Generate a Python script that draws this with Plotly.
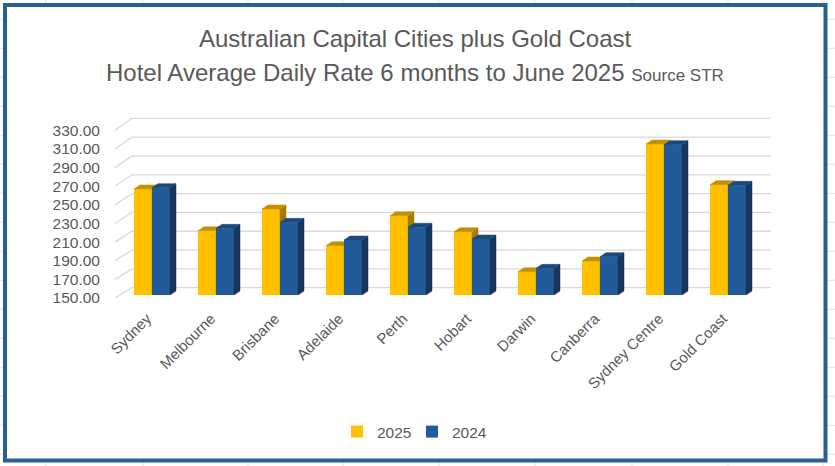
import plotly.graph_objects as go

# Hotel ADR, 6 months to June (AUD)
cities = ["Sydney", "Melbourne", "Brisbane", "Adelaide", "Perth", "Hobart",
          "Darwin", "Canberra", "Sydney Centre", "Gold Coast"]
adr_2025 = [263.4, 218.8, 242.0, 202.8, 234.8, 217.7, 174.9, 186.4, 311.5, 268.0]
adr_2024 = [264.8, 221.3, 227.7, 208.8, 222.4, 209.9, 178.5, 191.0, 310.8, 267.3]
value_ticks = [150, 170, 190, 210, 230, 250, 270, 290, 310, 330]

# page geometry (px)
W, H = 835, 466
L, R, T, B = 115, 64, 118, 168
PW, PH = W - L - R, H - T - B


def px(x):
    return (x - L) / PW


def py(y):
    return (H - B - y) / PH


# fake 3D: front plane (labels), bar plane, back wall
GROUP_PX = 64
FIRST_PX = 152
K_FRONT, K_BAR, K_BACK = 0.931, 0.935, 0.941
BAR_BOTTOM, BACK_BOTTOM, BACK_LEFT, BACK_RIGHT = 295, 287.7, 132, 771
BAR_W = 18 / GROUP_PX
DX = 6 / GROUP_PX
DY = 4 / K_BAR
FLOOR = value_ticks[0]
X_RANGE = [(L - FIRST_PX) / GROUP_PX, (W - R - FIRST_PX) / GROUP_PX]

TXT = "#595959"
FONT = "Liberation Sans, Arial, sans-serif"


def faces(vals, x_off):
    tx, ty, sx, sy = [], [], [], []
    for i, v in enumerate(vals):
        xl = i + x_off
        xr = xl + BAR_W
        tx += [xl, xr, xr + DX, xl + DX, xl, None]
        ty += [v, v, v + DY, v + DY, v, None]
        sx += [xr, xr, xr + DX, xr + DX, xr, None]
        sy += [FLOOR, v, v + DY, FLOOR + DY, FLOOR, None]
    return tx, ty, sx, sy


fig = go.Figure()

# wall gridlines, on the front-plane axis (side wall diagonal + back wall)
gx, gy = [], []
x_back = (BACK_LEFT - FIRST_PX) / GROUP_PX
x_right = (BACK_RIGHT - FIRST_PX) / GROUP_PX
for v in value_ticks:
    yb_px = BACK_BOTTOM - (v - FLOOR) * K_BACK
    u = FLOOR + ((H - B) - yb_px) / K_FRONT
    gx += [X_RANGE[0], x_back, x_right, None]
    gy += [v, u, u, None]
fig.add_trace(go.Scatter(x=gx, y=gy, mode="lines", line=dict(color="#D9D9D9", width=1.3),
                         showlegend=False, hoverinfo="skip"))

series = [
    ("2025", adr_2025, -BAR_W, "y2", "#FFC000", "#C29100", "#A37B00"),
    ("2024", adr_2024, 0.0, "y3", "#215C98", "#1A4A7C", "#15375C"),
]
for name, vals, off, yax, c_front, c_top, c_side in series:
    fig.add_trace(go.Bar(
        x=list(range(len(cities))), y=vals, name=name, width=BAR_W, offset=off,
        marker=dict(color=c_front, line=dict(width=0)), yaxis=yax,
    ))
    tx, ty, sx, sy = faces(vals, off)
    fig.add_trace(go.Scatter(x=sx, y=sy, yaxis=yax, mode="lines", fill="toself",
                             fillcolor=c_side, line=dict(color=c_side, width=0.5),
                             showlegend=False, hoverinfo="skip"))
    fig.add_trace(go.Scatter(x=tx, y=ty, yaxis=yax, mode="lines", fill="toself",
                             fillcolor=c_top, line=dict(color=c_top, width=0.5),
                             showlegend=False, hoverinfo="skip"))

shapes = []
# spreadsheet cells behind the chart object
for cx in [46, 143, 248, 343, 439, 535, 632, 728, 823]:
    shapes.append(dict(type="line", xref="paper", yref="paper", layer="below",
                       x0=px(cx), x1=px(cx), y0=py(0), y1=py(H),
                       line=dict(color="#E1E1E1", width=1)))
for k in range(16):
    ry = 19.3 + 29 * k
    shapes.append(dict(type="line", xref="paper", yref="paper", layer="below",
                       x0=px(0), x1=px(W), y0=py(ry), y1=py(ry),
                       line=dict(color="#E1E1E1", width=1)))
# chart object with its blue border
shapes.append(dict(type="rect", xref="paper", yref="paper", layer="below",
                   x0=px(5), x1=px(825.5), y0=py(5), y1=py(460.5),
                   fillcolor="white", line=dict(color="#2A5F96", width=4)))

annotations = [
    dict(text="Australian Capital Cities plus Gold Coast", xref="paper", yref="paper",
         x=px(415), y=py(38), xanchor="center", yanchor="middle", showarrow=False,
         font=dict(family=FONT, size=24, color=TXT)),
    dict(text="Hotel Average Daily Rate 6 months to June 2025 "
              "<span style='font-size:17px'>Source STR</span>",
         xref="paper", yref="paper", x=px(415), y=py(72), xanchor="center",
         yanchor="middle", showarrow=False, font=dict(family=FONT, size=24, color=TXT)),
]

bar_axis = dict(domain=[py(BAR_BOTTOM), 1], anchor="x", visible=False,
                range=[FLOOR, FLOOR + (BAR_BOTTOM - T) / K_BAR], fixedrange=True)

fig.update_layout(
    width=W, height=H,
    margin=dict(l=L, r=R, t=T, b=B),
    paper_bgcolor="white", plot_bgcolor="rgba(0,0,0,0)",
    barmode="overlay",
    showlegend=True,
    legend=dict(orientation="h", x=px(337), xanchor="left", y=py(432), yanchor="middle",
                font=dict(family=FONT, size=15.5, color=TXT), bgcolor="rgba(0,0,0,0)",
                itemwidth=30, entrywidth=30, traceorder="normal"),
    xaxis=dict(range=X_RANGE,
               tickvals=list(range(len(cities))), ticktext=cities, tickangle=-45,
               showgrid=False, zeroline=False, showline=False, ticks="",
               ticklabelstandoff=8, ticklabelshift=-5,
               tickfont=dict(family=FONT, size=15, color=TXT), anchor="y", fixedrange=True),
    yaxis=dict(domain=[0, 1], range=[FLOOR, FLOOR + PH / K_FRONT], tickvals=value_ticks,
               tickformat=".2f", showgrid=False, zeroline=False, showline=False, ticks="",
               ticklabelstandoff=14, tickfont=dict(family=FONT, size=15.5, color=TXT),
               fixedrange=True),
    yaxis2=bar_axis,
    yaxis3=bar_axis,
    shapes=shapes,
    annotations=annotations,
)

fig.write_html("out.html", config={"displayModeBar": False},
               post_script="document.body.style.margin='0';")
